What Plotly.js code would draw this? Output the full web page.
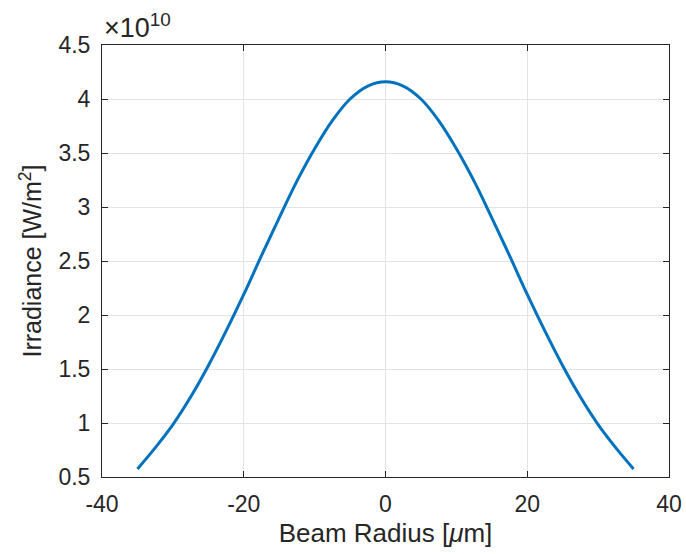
<!DOCTYPE html>
<html>
<head>
<meta charset="utf-8">
<script src="https://cdn.plot.ly/plotly-3.0.1.min.js"></script>
<style>html,body{margin:0;padding:0;background:#fff;}#chart{width:686px;height:554px;}</style>
</head>
<body>
<div id="chart"></div>
<script>
// Beam radius [µm]
var beamRadius = [-35, -32.5, -30, -27.5, -25, -22.5, -20, -17.5, -15, -12.5, -10, -7.5, -5, -2.5, 0,
                  2.5, 5, 7.5, 10, 12.5, 15, 17.5, 20, 22.5, 25, 27.5, 30, 32.5, 35];
// Irradiance in units of 1e10 W/m^2
var irradianceE10 = [0.575, 0.77, 0.985, 1.24, 1.53, 1.85, 2.19, 2.55, 2.90, 3.24, 3.54, 3.80, 4.00, 4.12, 4.16,
                     4.12, 4.00, 3.80, 3.54, 3.24, 2.90, 2.55, 2.19, 1.85, 1.53, 1.24, 0.985, 0.77, 0.575];
var xTicks = [-40, -20, 0, 20, 40];
var yTicks = [0.5, 1, 1.5, 2, 2.5, 3, 3.5, 4, 4.5];
var yTickText = ['0.5', '1', '1.5', '2', '2.5', '3', '3.5', '4', '4.5'];

var fontFam = '"Liberation Sans", Arial, Helvetica, sans-serif';
var dark = '#262626';

var trace = {
  x: beamRadius, y: irradianceE10, type: 'scatter', mode: 'lines',
  line: {color: '#0072BD', width: 3, shape: 'spline', smoothing: 1},
  hoverinfo: 'none'
};

var axisCommon = {
  showline: true, linecolor: dark, linewidth: 1, mirror: 'allticks',
  ticks: 'inside', ticklen: 6, tickcolor: dark, tickwidth: 1,
  showgrid: true, gridcolor: '#e3e3e3', gridwidth: 1, zeroline: false,
  tickfont: {family: fontFam, size: 23, color: dark}
};

var layout = {
  width: 686, height: 554,
  margin: {l: 102, r: 17, t: 45, b: 77},
  paper_bgcolor: '#fff', plot_bgcolor: '#fff',
  showlegend: false,
  xaxis: Object.assign({}, axisCommon, {
    range: [-40, 40], tickmode: 'array', tickvals: xTicks, ticktext: xTicks.map(String),
    ticklabelstandoff: 6,
    title: {text: 'Beam Radius [<i>\u03BC</i>m]', font: {family: fontFam, size: 26, color: dark}, standoff: 8}
  }),
  yaxis: Object.assign({}, axisCommon, {
    range: [0.5, 4.5], tickmode: 'array', tickvals: yTicks, ticktext: yTickText,
    ticklabelstandoff: 6,
    title: {text: 'Irradiance [W/m<sup>2</sup>]', font: {family: fontFam, size: 25, color: dark}, standoff: 9}
  }),
  annotations: [{
    xref: 'paper', yref: 'paper', x: 0, y: 1, xanchor: 'left', yanchor: 'bottom',
    yshift: 0, showarrow: false,
    text: '\u00D710<sup>10</sup>', font: {family: fontFam, size: 27, color: dark}
  }]
};

Plotly.newPlot('chart', [trace], layout, {staticPlot: true, displayModeBar: false});
</script>
</body>
</html>
